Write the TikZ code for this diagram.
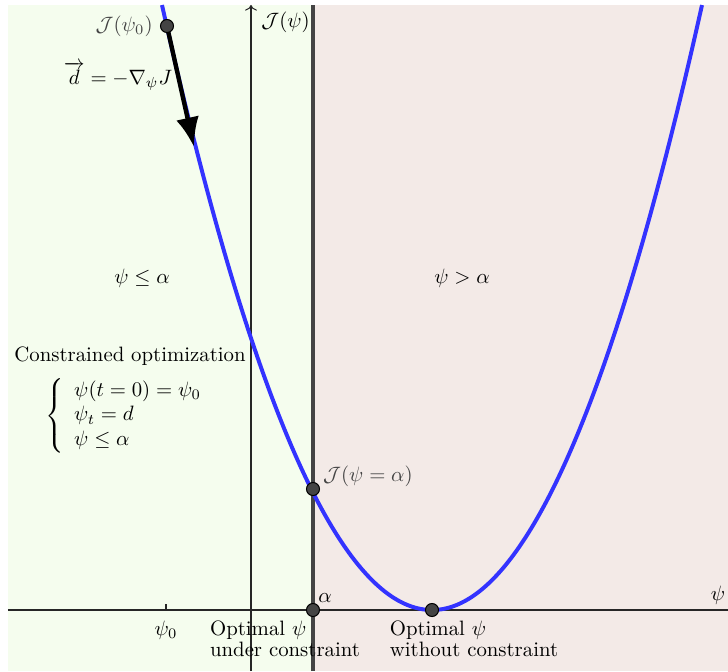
\documentclass[tikz,border=0pt]{standalone}
\usepackage{amsmath,amssymb}
\usetikzlibrary{arrows.meta,positioning}
\definecolor{bgleft}{RGB}{245,253,238}
\definecolor{bgright}{RGB}{243,234,231}
\definecolor{curveblue}{RGB}{51,51,255}
\definecolor{darkgr}{RGB}{68,68,68}
\tikzset{
  pt/.style={circle,draw=black,fill=darkgr,inner sep=0pt,minimum size=2.2mm,line width=0.5pt},
  gradarr/.style={line width=2.1pt,-{Latex[length=5mm,width=3.9mm]}},
  bound/.style={line width=2.4pt,darkgr},
  ax/.style={line width=0.5pt,black!85},
  curv/.style={line width=1.9pt,curveblue},
  glab/.style={text=darkgr},
}
\begin{document}
\begin{tikzpicture}[x=0.0169cm,y=0.0169cm]
  \useasboundingbox (-251,-61) rectangle (477,610);
  % regions
  \fill[bgleft] (-243,-61) rectangle (62,605);
  \fill[bgright] (62,-61) rectangle (477,605);
  % axes
  \coordinate (xl) at (-243,0);
  \coordinate (xr) at (477,0);
  \coordinate (yb) at (0,-61);
  \coordinate (yt) at (0,605);
  \draw[ax] (xl) -- (xr);
  \draw[ax,->] (yb) -- (yt);
  \draw[ax] (-85,0) -- (-85,6);
  % constraint boundary
  \coordinate (bb) at (62,-61);
  \coordinate (bt) at (62,605);
  \draw[bound] (bb) -- (bt);
  % cost function, J = (0.0911 (psi-181))^2
  \draw[curv] plot[domain=-89:451,samples=120,smooth] (\x,{(0.0911*(\x-181))^2});
  % descent direction
  \coordinate (j0) at (-84,584);
  \coordinate (tip) at (-57,463);
  \draw[gradarr] (j0) -- (tip);
  % points
  \node[pt] (p0) at (j0) {};
  \node[pt] (pa) at (62,121) {};
  \node[pt] (al) at (62,0) {};
  \node[pt] (mn) at (181,0) {};
  % labels
  \node[glab,left=0pt of p0] (lj0) {$\mathcal{J}(\psi_0)$};
  \node (ld) at (-133,534) {$\overrightarrow{d}=-\nabla_{\psi}J$};
  \node[anchor=west] (lj) at (3,588) {$\mathcal{J}(\psi)$};
  \node[glab,right=-2pt of pa,yshift=2.2mm] (lja) {$\mathcal{J}(\psi=\alpha)$};
  \node (lle) at (-109,332) {$\psi\leq\alpha$};
  \node (lgt) at (211,332) {$\psi>\alpha$};
  \node (lco) at (-121,254) {Constrained optimization};
  \node[anchor=west] (lsys) at (-213,194)
    {$\left\{\begin{array}{l}\psi(t=0)=\psi_0\\ \psi_t=d\\ \psi\leq\alpha\end{array}\right.$};
  \node (lal) at (74,12) {$\alpha$};
  \node (lps) at (467,15) {$\psi$};
  \node (lp0) at (-85,-20) {$\psi_0$};
  \node[align=left] (luc) at (34,-29)
    {Optimal $\psi$\\[-2pt]under constraint};
  \node[align=left] (lwc) at (223,-29)
    {Optimal $\psi$\\[-2pt]without constraint};
\end{tikzpicture}
\end{document}
